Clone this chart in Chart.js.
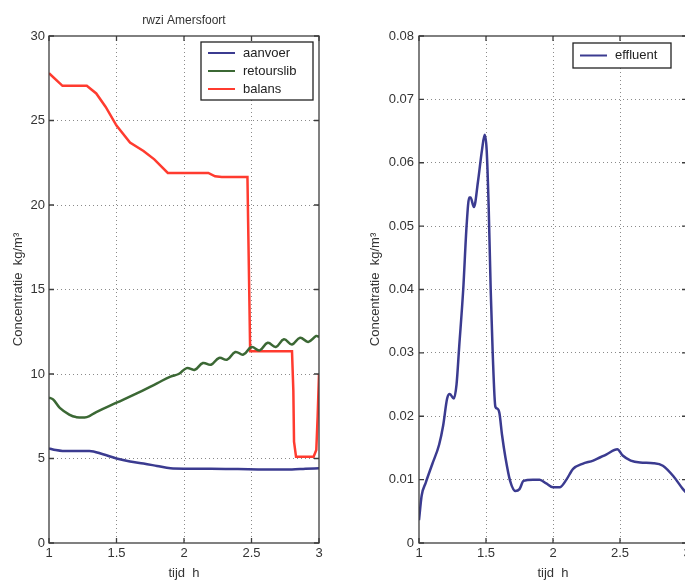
<!DOCTYPE html>
<html>
<head>
<meta charset="utf-8">
<script src="https://cdn.jsdelivr.net/npm/chart.js@4/dist/chart.umd.min.js"></script>
<style>
  html, body { margin: 0; padding: 0; background: #fff; overflow: hidden; width: 685px; height: 581px; }
  #left { position: absolute; left: 0; top: 0; }
  #right { position: absolute; left: 340px; top: 0; }
</style>
</head>
<body>
<canvas id="left" width="340" height="581"></canvas>
<canvas id="right" width="380" height="581"></canvas>
<script>
const FONT = '"Liberation Sans", Arial, sans-serif';

const xTicks = [1, 1.5, 2, 2.5, 3];
const yTicksLeft = [0, 5, 10, 15, 20, 25, 30];
const yTicksRight = [0, 0.01, 0.02, 0.03, 0.04, 0.05, 0.06, 0.07, 0.08];
const yLabelsRight = ['0', '0.01', '0.02', '0.03', '0.04', '0.05', '0.06', '0.07', '0.08'];

// tijd (h) and concentratie (kg/m3)
const aanvoerT = [1.0, 1.05, 1.1, 1.3, 1.4, 1.5, 1.6, 1.7, 1.8, 1.9, 2.0, 2.2, 2.4, 2.6, 2.8, 2.9, 3.0];
const aanvoerC = [5.6, 5.5, 5.45, 5.45, 5.25, 5.0, 4.82, 4.7, 4.56, 4.42, 4.4, 4.4, 4.38, 4.35, 4.35, 4.4, 4.42];

const retourslibT = [1.0, 1.03, 1.08, 1.15, 1.2, 1.28, 1.35, 1.5, 1.65, 1.8, 1.9, 1.96, 2.02, 2.08, 2.14, 2.2, 2.26, 2.32,
  2.38, 2.44, 2.5, 2.56, 2.62, 2.68, 2.74, 2.8, 2.86, 2.92, 2.98, 3.0];
const retourslibC = [8.6, 8.5, 8.0, 7.6, 7.45, 7.45, 7.75, 8.3, 8.85, 9.45, 9.85, 10.0, 10.35, 10.25, 10.65, 10.55, 10.95, 10.85,
  11.3, 11.15, 11.6, 11.4, 11.85, 11.6, 12.05, 11.75, 12.15, 11.9, 12.25, 12.2];

const balansT = [1.0, 1.1, 1.28, 1.35, 1.42, 1.5, 1.6, 1.7, 1.78, 1.88, 2.18, 2.23, 2.28, 2.47, 2.475, 2.485, 2.49,
  2.8, 2.81, 2.815, 2.83, 2.96, 2.98, 2.99, 3.0];
const balansC = [27.8, 27.05, 27.05, 26.6, 25.8, 24.7, 23.7, 23.2, 22.7, 21.9, 21.9, 21.7, 21.65, 21.65, 19.0, 14.0, 11.35,
  11.35, 9.0, 6.0, 5.1, 5.1, 5.5, 7.5, 10.0];

const effluentT = [1.0, 1.02, 1.05, 1.1, 1.15, 1.18, 1.21, 1.23, 1.26, 1.28, 1.3, 1.33, 1.355, 1.375, 1.385, 1.41, 1.44, 1.47,
  1.49, 1.505, 1.52, 1.535, 1.55, 1.57, 1.585, 1.6, 1.62, 1.645, 1.68, 1.72, 1.75, 1.78, 1.85, 1.9, 1.95, 2.0, 2.05,
  2.1, 2.15, 2.22, 2.3, 2.4, 2.48, 2.52, 2.58, 2.65, 2.75, 2.82, 2.9, 2.97, 3.0];
const effluentC = [0.0036, 0.0075, 0.0095, 0.0125, 0.0155, 0.0185, 0.0228, 0.0235, 0.0228, 0.025, 0.031, 0.040, 0.050, 0.0545,
  0.0545, 0.053, 0.057, 0.062, 0.0644, 0.062, 0.053, 0.040, 0.030, 0.0215, 0.0212, 0.0205, 0.017, 0.0135, 0.0098, 0.0082,
  0.0085, 0.0098, 0.0100, 0.0100, 0.0094, 0.0088, 0.0088, 0.0100, 0.0117, 0.0125, 0.0130, 0.0140, 0.0148, 0.0138, 0.0130,
  0.0127, 0.0126, 0.0122, 0.0105, 0.0085, 0.0078];

const BLUE = '#3b3b90';
const GREEN = '#3b6834';
const RED = '#ff3b2f';

function points(t, c) {
  return t.map((x, i) => ({ x, y: c[i] }));
}

// curve: 'straight', 'monotone' or 'wave'
function series(label, t, c, color, curve) {
  return {
    label,
    data: points(t, c),
    borderColor: color,
    backgroundColor: color,
    borderWidth: 2.5,
    pointRadius: 0,
    tension: curve === 'wave' ? 0.4 : 0,
    cubicInterpolationMode: curve === 'monotone' ? 'monotone' : 'default',
  };
}

// box around the plot with inward tick marks on every side
const framePlugin = {
  id: 'frame',
  afterDatasetsDraw(chart) {
    const { ctx, chartArea: a, scales: { x, y } } = chart;
    ctx.save();
    ctx.strokeStyle = '#3c3c3c';
    ctx.lineWidth = 1.3;
    ctx.strokeRect(a.left, a.top, a.width, a.height);
    ctx.beginPath();
    x.ticks.forEach(t => {
      const px = x.getPixelForValue(t.value);
      ctx.moveTo(px, a.bottom); ctx.lineTo(px, a.bottom - 5);
      ctx.moveTo(px, a.top); ctx.lineTo(px, a.top + 5);
    });
    y.ticks.forEach(t => {
      const py = y.getPixelForValue(t.value);
      ctx.moveTo(a.left, py); ctx.lineTo(a.left + 5, py);
      ctx.moveTo(a.right, py); ctx.lineTo(a.right - 5, py);
    });
    ctx.stroke();
    ctx.restore();
  }
};

// legend in a bordered box, top right inside the plot
const boxLegend = {
  id: 'boxLegend',
  afterDraw(chart, args, opts) {
    const { ctx, chartArea: a } = chart;
    const sets = chart.data.datasets;
    const h = opts.rowHeight * sets.length + opts.pad * 2;
    const x0 = a.right - opts.right - opts.width;
    const y0 = a.top + opts.top;
    ctx.save();
    ctx.fillStyle = '#fff';
    ctx.fillRect(x0, y0, opts.width, h);
    ctx.strokeStyle = '#222';
    ctx.lineWidth = 1.3;
    ctx.strokeRect(x0, y0, opts.width, h);
    ctx.font = '13px ' + FONT;
    ctx.textBaseline = 'middle';
    sets.forEach((ds, i) => {
      const yy = y0 + opts.pad + opts.rowHeight * (i + 0.5);
      ctx.strokeStyle = ds.borderColor;
      ctx.lineWidth = 2;
      ctx.beginPath();
      ctx.moveTo(x0 + 7, yy);
      ctx.lineTo(x0 + 34, yy);
      ctx.stroke();
      ctx.fillStyle = '#222';
      ctx.fillText(ds.label, x0 + 42, yy);
    });
    ctx.restore();
  }
};

function gridColor(ticks) {
  const lo = ticks[0], hi = ticks[ticks.length - 1];
  return c => (c.tick && (c.tick.value === lo || c.tick.value === hi)) ? 'rgba(0,0,0,0)' : '#8a8a8a';
}

function xAxis() {
  return {
    type: 'linear',
    min: 1, max: 3,
    afterBuildTicks: s => { s.ticks = xTicks.map(v => ({ value: v })); },
    afterFit: s => { s.height = 38; },
    grid: { color: gridColor(xTicks), drawTicks: false, lineWidth: 1 },
    border: { display: false, dash: [1, 3] },
    ticks: { color: '#333', font: { size: 13, family: FONT }, padding: 3, maxRotation: 0, autoSkip: false,
      callback: v => String(v) },
    title: { display: true, text: 'tijd  h', color: '#333', font: { size: 13, family: FONT }, padding: { top: 0, bottom: 0 } }
  };
}

function yAxis(ticks, labels, width, titlePad, pad) {
  return {
    type: 'linear',
    min: ticks[0], max: ticks[ticks.length - 1],
    afterBuildTicks: s => { s.ticks = ticks.map(v => ({ value: v })); },
    afterFit: s => { s.width = width; },
    grid: { color: gridColor(ticks), drawTicks: false, lineWidth: 1 },
    border: { display: false, dash: [1, 3] },
    ticks: { color: '#333', font: { size: 13, family: FONT }, padding: pad, autoSkip: false,
      callback: (v, i) => labels[i] },
    title: { display: true, text: 'Concentratie  kg/m³', color: '#333', font: { size: 13, family: FONT },
      padding: { top: titlePad, bottom: 0 } }
  };
}

new Chart(document.getElementById('left'), {
  type: 'line',
  data: {
    datasets: [
      series('aanvoer', aanvoerT, aanvoerC, BLUE, 'monotone'),
      series('retourslib', retourslibT, retourslibC, GREEN, 'wave'),
      series('balans', balansT, balansC, RED, 'straight'),
    ]
  },
  options: {
    responsive: false,
    animation: false,
    layout: { padding: { left: 0, right: 21, top: 0, bottom: 0 } },
    scales: {
      x: xAxis(),
      top: {
        type: 'linear', position: 'top', min: 1, max: 3,
        afterFit: s => { s.height = 36; },
        grid: { display: false }, border: { display: false }, ticks: { display: false },
        title: { display: true, text: 'rwzi Amersfoort', color: '#333', font: { size: 12, family: FONT },
          padding: { top: 13, bottom: 0 } }
      },
      y: yAxis(yTicksLeft, yTicksLeft.map(String), 49, 11, 4)
    },
    plugins: {
      legend: { display: false },
      tooltip: { enabled: false },
      boxLegend: { width: 112, right: 6, top: 6, rowHeight: 18, pad: 2 }
    }
  },
  plugins: [framePlugin, boxLegend]
});

new Chart(document.getElementById('right'), {
  type: 'line',
  data: {
    datasets: [series('effluent', effluentT, effluentC, BLUE, 'monotone')]
  },
  options: {
    responsive: false,
    animation: false,
    layout: { padding: { left: 0, right: 33, top: 36, bottom: 0 } },
    scales: {
      x: xAxis(),
      y: yAxis(yTicksRight, yLabelsRight, 79, 28, 5)
    },
    plugins: {
      legend: { display: false },
      tooltip: { enabled: false },
      boxLegend: { width: 98, right: 16, top: 7, rowHeight: 19, pad: 3 }
    }
  },
  plugins: [framePlugin, boxLegend]
});
</script>
</body>
</html>
